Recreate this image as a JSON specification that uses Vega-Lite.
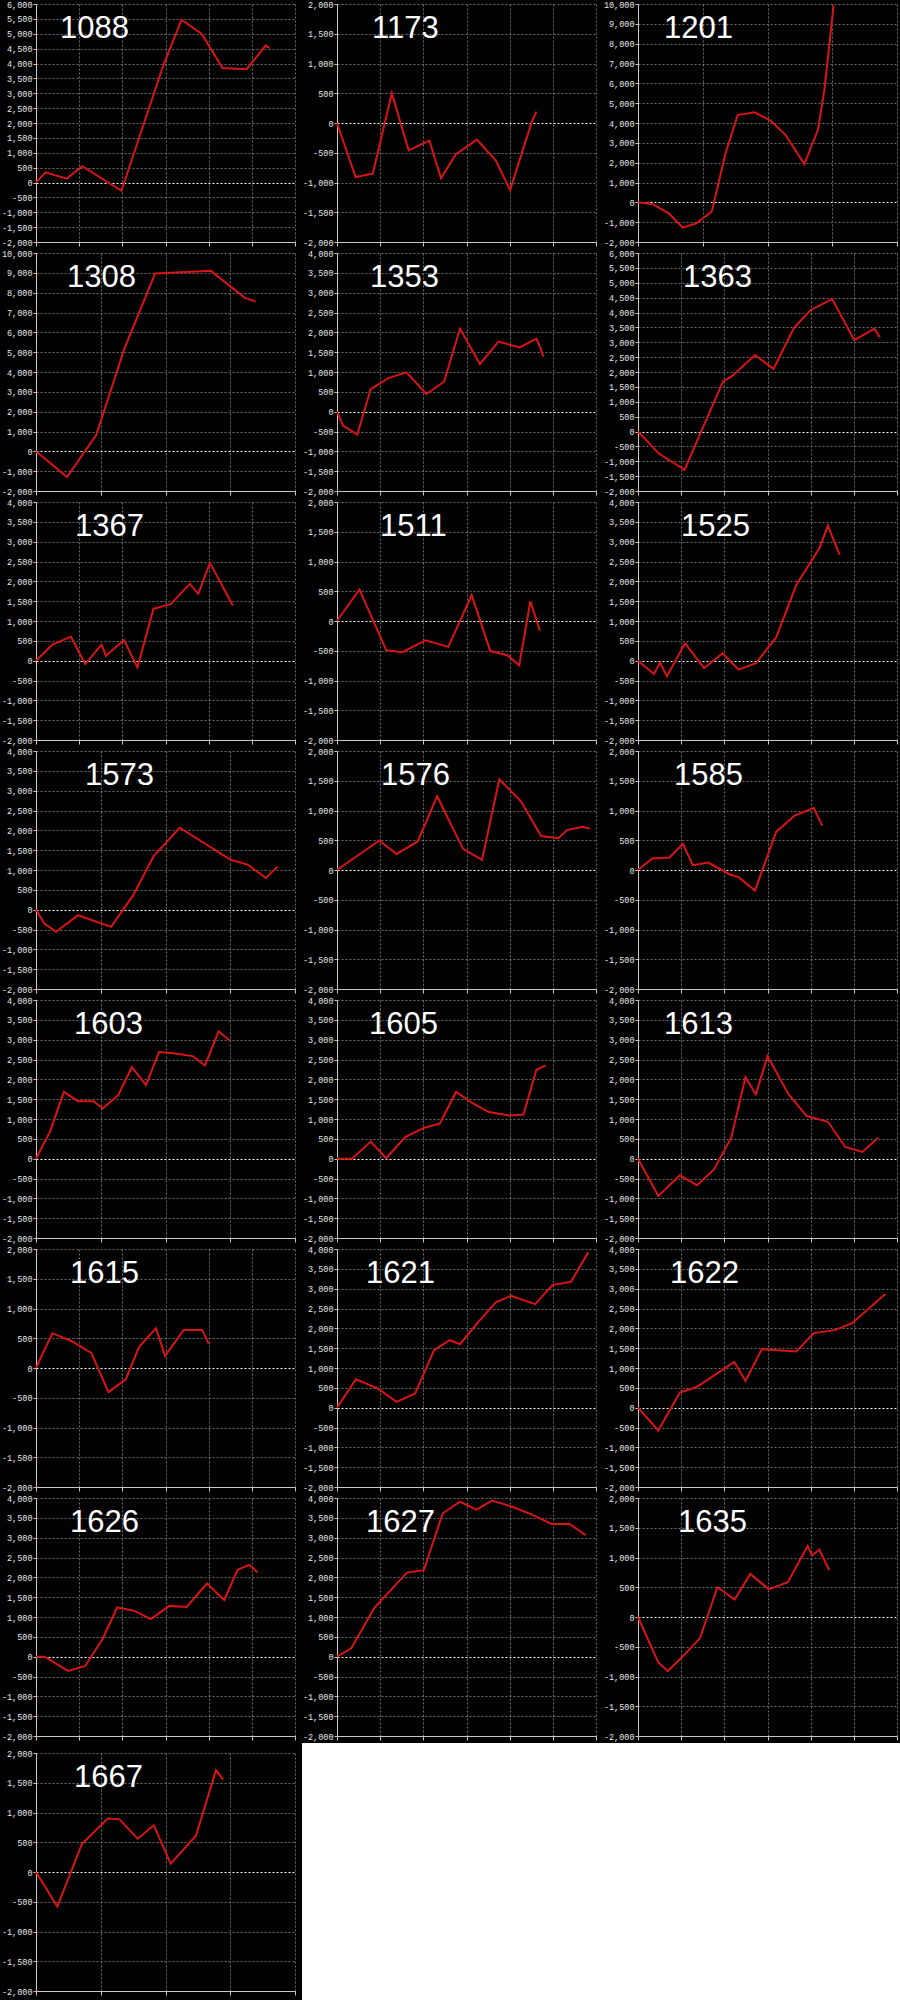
{
"$schema": "https://vega.github.io/schema/vega-lite/v6.json",
"background": "black",
"padding": {"left": 1, "top": 0, "right": 0, "bottom": 0},
"spacing": 2,
"datasets": {
"p1088": [{"x":0,"y":0},{"x":0.22,"y":340},{"x":0.71,"y":130},{"x":1.07,"y":550},{"x":1.98,"y":-280},{"x":2.95,"y":3940},{"x":3.37,"y":5470},{"x":3.84,"y":4990},{"x":4.32,"y":3850},{"x":4.88,"y":3810},{"x":5.32,"y":4600},{"x":5.41,"y":4520}],
"p1173": [{"x":0,"y":0},{"x":0.43,"y":-910},{"x":0.83,"y":-850},{"x":1.27,"y":500},{"x":1.66,"y":-460},{"x":2.14,"y":-295},{"x":2.41,"y":-930},{"x":2.75,"y":-530},{"x":3.24,"y":-280},{"x":3.68,"y":-630},{"x":4.01,"y":-1125},{"x":4.52,"y":35},{"x":4.62,"y":190}],
"p1201": [{"x":0,"y":0},{"x":0.22,"y":-80},{"x":0.48,"y":-570},{"x":0.69,"y":-1270},{"x":0.9,"y":-1060},{"x":1.14,"y":-460},{"x":1.35,"y":2450},{"x":1.54,"y":4400},{"x":1.8,"y":4540},{"x":2.05,"y":4110},{"x":2.28,"y":3390},{"x":2.57,"y":1930},{"x":2.78,"y":3670},{"x":2.88,"y":5710},{"x":3.02,"y":9920}],
"p1308": [{"x":0,"y":0},{"x":0.48,"y":-1300},{"x":0.93,"y":820},{"x":1.37,"y":5220},{"x":1.84,"y":8970},{"x":2.7,"y":9100},{"x":3.22,"y":7750},{"x":3.39,"y":7550}],
"p1353": [{"x":0,"y":0},{"x":0.14,"y":-350},{"x":0.47,"y":-580},{"x":0.78,"y":570},{"x":1.19,"y":845},{"x":1.61,"y":990},{"x":2.07,"y":445},{"x":2.48,"y":755},{"x":2.85,"y":2090},{"x":3.31,"y":1200},{"x":3.74,"y":1765},{"x":4.23,"y":1620},{"x":4.62,"y":1840},{"x":4.72,"y":1590},{"x":4.78,"y":1390}],
"p1363": [{"x":0,"y":0},{"x":0.49,"y":-750},{"x":1.08,"y":-1285},{"x":1.47,"y":20},{"x":1.97,"y":1685},{"x":2.17,"y":1850},{"x":2.71,"y":2570},{"x":3.14,"y":2105},{"x":3.61,"y":3475},{"x":4.0,"y":4085},{"x":4.5,"y":4450},{"x":5.01,"y":3070},{"x":5.48,"y":3455},{"x":5.6,"y":3165}],
"p1367": [{"x":0,"y":0},{"x":0.38,"y":405},{"x":0.81,"y":605},{"x":1.14,"y":-85},{"x":1.52,"y":405},{"x":1.62,"y":125},{"x":2.04,"y":520},{"x":2.35,"y":-170},{"x":2.72,"y":1305},{"x":3.12,"y":1425},{"x":3.56,"y":1935},{"x":3.76,"y":1685},{"x":4.03,"y":2465},{"x":4.56,"y":1390}],
"p1511": [{"x":0,"y":0},{"x":0.52,"y":530},{"x":1.14,"y":-490},{"x":1.51,"y":-525},{"x":2.05,"y":-325},{"x":2.58,"y":-435},{"x":3.12,"y":435},{"x":3.55,"y":-505},{"x":3.95,"y":-575},{"x":4.22,"y":-745},{"x":4.48,"y":330},{"x":4.7,"y":-165}],
"p1525": [{"x":0,"y":0},{"x":0.37,"y":-335},{"x":0.51,"y":-50},{"x":0.67,"y":-390},{"x":1.09,"y":440},{"x":1.53,"y":-190},{"x":1.96,"y":185},{"x":2.33,"y":-225},{"x":2.73,"y":-65},{"x":3.2,"y":585},{"x":3.67,"y":1915},{"x":4.2,"y":2835},{"x":4.4,"y":3400},{"x":4.67,"y":2665}],
"p1573": [{"x":0,"y":0},{"x":0.13,"y":-350},{"x":0.31,"y":-560},{"x":0.65,"y":-140},{"x":1.16,"y":-435},{"x":1.5,"y":360},{"x":1.82,"y":1360},{"x":2.22,"y":2065},{"x":3.0,"y":1260},{"x":3.27,"y":1135},{"x":3.55,"y":800},{"x":3.73,"y":1085}],
"p1576": [{"x":0,"y":0},{"x":0.98,"y":495},{"x":1.38,"y":270},{"x":1.87,"y":480},{"x":2.32,"y":1240},{"x":2.92,"y":355},{"x":3.36,"y":170},{"x":3.76,"y":1525},{"x":4.26,"y":1155},{"x":4.73,"y":570},{"x":5.13,"y":535},{"x":5.33,"y":670},{"x":5.69,"y":725},{"x":5.86,"y":695}],
"p1585": [{"x":0,"y":0},{"x":0.33,"y":195},{"x":0.73,"y":210},{"x":1.04,"y":440},{"x":1.27,"y":80},{"x":1.63,"y":125},{"x":2.13,"y":-75},{"x":2.33,"y":-120},{"x":2.71,"y":-345},{"x":3.2,"y":640},{"x":3.63,"y":915},{"x":4.07,"y":1040},{"x":4.27,"y":745}],
"p1603": [{"x":0,"y":0},{"x":0.22,"y":695},{"x":0.43,"y":1685},{"x":0.65,"y":1450},{"x":0.89,"y":1450},{"x":1.03,"y":1265},{"x":1.27,"y":1600},{"x":1.48,"y":2305},{"x":1.7,"y":1855},{"x":1.9,"y":2690},{"x":2.09,"y":2665},{"x":2.42,"y":2585},{"x":2.61,"y":2350},{"x":2.82,"y":3210},{"x":3.0,"y":2975}],
"p1605": [{"x":0,"y":0},{"x":0.35,"y":0},{"x":0.78,"y":430},{"x":1.14,"y":10},{"x":1.58,"y":545},{"x":2.02,"y":780},{"x":2.38,"y":880},{"x":2.76,"y":1685},{"x":3.12,"y":1410},{"x":3.52,"y":1175},{"x":3.99,"y":1090},{"x":4.32,"y":1115},{"x":4.62,"y":2240},{"x":4.83,"y":2350}],
"p1613": [{"x":0,"y":0},{"x":0.47,"y":-940},{"x":0.97,"y":-420},{"x":1.37,"y":-670},{"x":1.76,"y":-270},{"x":2.16,"y":530},{"x":2.49,"y":2055},{"x":2.73,"y":1620},{"x":3.0,"y":2585},{"x":3.49,"y":1620},{"x":3.91,"y":1075},{"x":4.4,"y":930},{"x":4.8,"y":295},{"x":5.2,"y":170},{"x":5.56,"y":530}],
"p1615": [{"x":0,"y":0},{"x":0.38,"y":585},{"x":0.83,"y":450},{"x":1.28,"y":255},{"x":1.68,"y":-405},{"x":2.08,"y":-190},{"x":2.39,"y":355},{"x":2.78,"y":670},{"x":2.99,"y":200},{"x":3.42,"y":640},{"x":3.85,"y":640},{"x":4.0,"y":410}],
"p1621": [{"x":0,"y":0},{"x":0.44,"y":715},{"x":0.95,"y":480},{"x":1.38,"y":145},{"x":1.81,"y":360},{"x":2.25,"y":1450},{"x":2.61,"y":1700},{"x":2.85,"y":1600},{"x":3.25,"y":2130},{"x":3.68,"y":2655},{"x":4.03,"y":2820},{"x":4.59,"y":2610},{"x":4.99,"y":3090},{"x":5.42,"y":3175},{"x":5.82,"y":3915}],
"p1622": [{"x":0,"y":0},{"x":0.47,"y":-575},{"x":0.97,"y":380},{"x":1.36,"y":520},{"x":2.23,"y":1155},{"x":2.49,"y":675},{"x":2.87,"y":1475},{"x":3.67,"y":1415},{"x":4.07,"y":1880},{"x":4.56,"y":1955},{"x":4.96,"y":2130},{"x":5.73,"y":2865}],
"p1626": [{"x":0,"y":0},{"x":0.2,"y":0},{"x":0.74,"y":-360},{"x":1.14,"y":-235},{"x":1.54,"y":440},{"x":1.88,"y":1240},{"x":2.28,"y":1155},{"x":2.66,"y":945},{"x":3.09,"y":1280},{"x":3.49,"y":1255},{"x":3.96,"y":1845},{"x":4.36,"y":1430},{"x":4.67,"y":2190},{"x":4.94,"y":2315},{"x":5.13,"y":2130}],
"p1627": [{"x":0,"y":0},{"x":0.33,"y":210},{"x":0.87,"y":1240},{"x":1.62,"y":2120},{"x":2.01,"y":2180},{"x":2.45,"y":3615},{"x":2.85,"y":3905},{"x":3.23,"y":3705},{"x":3.59,"y":3935},{"x":4.06,"y":3780},{"x":4.52,"y":3580},{"x":4.97,"y":3345},{"x":5.39,"y":3345},{"x":5.76,"y":3065}],
"p1635": [{"x":0,"y":0},{"x":0.47,"y":-765},{"x":0.69,"y":-910},{"x":1.07,"y":-640},{"x":1.44,"y":-350},{"x":1.84,"y":500},{"x":2.24,"y":295},{"x":2.6,"y":725},{"x":3.03,"y":465},{"x":3.47,"y":585},{"x":3.93,"y":1195},{"x":4.03,"y":1035},{"x":4.2,"y":1135},{"x":4.43,"y":785}],
"p1667": [{"x":0,"y":0},{"x":0.33,"y":-580},{"x":0.71,"y":475},{"x":1.11,"y":900},{"x":1.29,"y":885},{"x":1.57,"y":560},{"x":1.82,"y":785},{"x":2.08,"y":140},{"x":2.47,"y":610},{"x":2.78,"y":1710},{"x":2.89,"y":1555}]
},
"vconcat": [
{"spacing": 6, "hconcat": [
{"title": {"text": "1088", "dx": 24}, "width": 259, "height": 238, "data": {"name": "p1088"}, "mark": "line", "encoding": {"x": {"field": "x", "type": "quantitative", "scale": {"domain": [0, 6], "nice": false, "zero": false}, "axis": {"values": [0,1,2,3,4,5,6]}}, "y": {"field": "y", "type": "quantitative", "scale": {"domain": [-2000, 6000], "nice": false}, "axis": {"values": [-2000,-1500,-1000,-500,0,500,1000,1500,2000,2500,3000,3500,4000,4500,5000,5500,6000], "gridColor": {"condition": {"test": "datum.value === 0", "value": "#ffffff"}, "value": "#6e6e6e"}}}}},
{"title": {"text": "1173", "dx": 35}, "width": 259, "height": 238, "data": {"name": "p1173"}, "mark": "line", "encoding": {"x": {"field": "x", "type": "quantitative", "scale": {"domain": [0, 6], "nice": false, "zero": false}, "axis": {"values": [0,1,2,3,4,5,6]}}, "y": {"field": "y", "type": "quantitative", "scale": {"domain": [-2000, 2000], "nice": false}, "axis": {"values": [-2000,-1500,-1000,-500,0,500,1000,1500,2000], "gridColor": {"condition": {"test": "datum.value === 0", "value": "#ffffff"}, "value": "#6e6e6e"}}}}},
{"title": {"text": "1201", "dx": 26}, "width": 259, "height": 238, "data": {"name": "p1201"}, "mark": "line", "encoding": {"x": {"field": "x", "type": "quantitative", "scale": {"domain": [0, 4], "nice": false, "zero": false}, "axis": {"values": [0,1,2,3,4]}}, "y": {"field": "y", "type": "quantitative", "scale": {"domain": [-2000, 10000], "nice": false}, "axis": {"values": [-2000,-1000,0,1000,2000,3000,4000,5000,6000,7000,8000,9000,10000], "gridColor": {"condition": {"test": "datum.value === 0", "value": "#ffffff"}, "value": "#6e6e6e"}}}}}
]},
{"spacing": 6, "hconcat": [
{"title": {"text": "1308", "dx": 31}, "width": 259, "height": 238, "data": {"name": "p1308"}, "mark": "line", "encoding": {"x": {"field": "x", "type": "quantitative", "scale": {"domain": [0, 4], "nice": false, "zero": false}, "axis": {"values": [0,1,2,3,4]}}, "y": {"field": "y", "type": "quantitative", "scale": {"domain": [-2000, 10000], "nice": false}, "axis": {"values": [-2000,-1000,0,1000,2000,3000,4000,5000,6000,7000,8000,9000,10000], "gridColor": {"condition": {"test": "datum.value === 0", "value": "#ffffff"}, "value": "#6e6e6e"}}}}},
{"title": {"text": "1353", "dx": 33}, "width": 259, "height": 238, "data": {"name": "p1353"}, "mark": "line", "encoding": {"x": {"field": "x", "type": "quantitative", "scale": {"domain": [0, 6], "nice": false, "zero": false}, "axis": {"values": [0,1,2,3,4,5,6]}}, "y": {"field": "y", "type": "quantitative", "scale": {"domain": [-2000, 4000], "nice": false}, "axis": {"values": [-2000,-1500,-1000,-500,0,500,1000,1500,2000,2500,3000,3500,4000], "gridColor": {"condition": {"test": "datum.value === 0", "value": "#ffffff"}, "value": "#6e6e6e"}}}}},
{"title": {"text": "1363", "dx": 45}, "width": 259, "height": 238, "data": {"name": "p1363"}, "mark": "line", "encoding": {"x": {"field": "x", "type": "quantitative", "scale": {"domain": [0, 6], "nice": false, "zero": false}, "axis": {"values": [0,1,2,3,4,5,6]}}, "y": {"field": "y", "type": "quantitative", "scale": {"domain": [-2000, 6000], "nice": false}, "axis": {"values": [-2000,-1500,-1000,-500,0,500,1000,1500,2000,2500,3000,3500,4000,4500,5000,5500,6000], "gridColor": {"condition": {"test": "datum.value === 0", "value": "#ffffff"}, "value": "#6e6e6e"}}}}}
]},
{"spacing": 6, "hconcat": [
{"title": {"text": "1367", "dx": 39}, "width": 259, "height": 238, "data": {"name": "p1367"}, "mark": "line", "encoding": {"x": {"field": "x", "type": "quantitative", "scale": {"domain": [0, 6], "nice": false, "zero": false}, "axis": {"values": [0,1,2,3,4,5,6]}}, "y": {"field": "y", "type": "quantitative", "scale": {"domain": [-2000, 4000], "nice": false}, "axis": {"values": [-2000,-1500,-1000,-500,0,500,1000,1500,2000,2500,3000,3500,4000], "gridColor": {"condition": {"test": "datum.value === 0", "value": "#ffffff"}, "value": "#6e6e6e"}}}}},
{"title": {"text": "1511", "dx": 43}, "width": 259, "height": 238, "data": {"name": "p1511"}, "mark": "line", "encoding": {"x": {"field": "x", "type": "quantitative", "scale": {"domain": [0, 6], "nice": false, "zero": false}, "axis": {"values": [0,1,2,3,4,5,6]}}, "y": {"field": "y", "type": "quantitative", "scale": {"domain": [-2000, 2000], "nice": false}, "axis": {"values": [-2000,-1500,-1000,-500,0,500,1000,1500,2000], "gridColor": {"condition": {"test": "datum.value === 0", "value": "#ffffff"}, "value": "#6e6e6e"}}}}},
{"title": {"text": "1525", "dx": 43}, "width": 259, "height": 238, "data": {"name": "p1525"}, "mark": "line", "encoding": {"x": {"field": "x", "type": "quantitative", "scale": {"domain": [0, 6], "nice": false, "zero": false}, "axis": {"values": [0,1,2,3,4,5,6]}}, "y": {"field": "y", "type": "quantitative", "scale": {"domain": [-2000, 4000], "nice": false}, "axis": {"values": [-2000,-1500,-1000,-500,0,500,1000,1500,2000,2500,3000,3500,4000], "gridColor": {"condition": {"test": "datum.value === 0", "value": "#ffffff"}, "value": "#6e6e6e"}}}}}
]},
{"spacing": 6, "hconcat": [
{"title": {"text": "1573", "dx": 49}, "width": 259, "height": 238, "data": {"name": "p1573"}, "mark": "line", "encoding": {"x": {"field": "x", "type": "quantitative", "scale": {"domain": [0, 4], "nice": false, "zero": false}, "axis": {"values": [0,1,2,3,4]}}, "y": {"field": "y", "type": "quantitative", "scale": {"domain": [-2000, 4000], "nice": false}, "axis": {"values": [-2000,-1500,-1000,-500,0,500,1000,1500,2000,2500,3000,3500,4000], "gridColor": {"condition": {"test": "datum.value === 0", "value": "#ffffff"}, "value": "#6e6e6e"}}}}},
{"title": {"text": "1576", "dx": 44}, "width": 259, "height": 238, "data": {"name": "p1576"}, "mark": "line", "encoding": {"x": {"field": "x", "type": "quantitative", "scale": {"domain": [0, 6], "nice": false, "zero": false}, "axis": {"values": [0,1,2,3,4,5,6]}}, "y": {"field": "y", "type": "quantitative", "scale": {"domain": [-2000, 2000], "nice": false}, "axis": {"values": [-2000,-1500,-1000,-500,0,500,1000,1500,2000], "gridColor": {"condition": {"test": "datum.value === 0", "value": "#ffffff"}, "value": "#6e6e6e"}}}}},
{"title": {"text": "1585", "dx": 36}, "width": 259, "height": 238, "data": {"name": "p1585"}, "mark": "line", "encoding": {"x": {"field": "x", "type": "quantitative", "scale": {"domain": [0, 6], "nice": false, "zero": false}, "axis": {"values": [0,1,2,3,4,5,6]}}, "y": {"field": "y", "type": "quantitative", "scale": {"domain": [-2000, 2000], "nice": false}, "axis": {"values": [-2000,-1500,-1000,-500,0,500,1000,1500,2000], "gridColor": {"condition": {"test": "datum.value === 0", "value": "#ffffff"}, "value": "#6e6e6e"}}}}}
]},
{"spacing": 6, "hconcat": [
{"title": {"text": "1603", "dx": 38}, "width": 259, "height": 238, "data": {"name": "p1603"}, "mark": "line", "encoding": {"x": {"field": "x", "type": "quantitative", "scale": {"domain": [0, 4], "nice": false, "zero": false}, "axis": {"values": [0,1,2,3,4]}}, "y": {"field": "y", "type": "quantitative", "scale": {"domain": [-2000, 4000], "nice": false}, "axis": {"values": [-2000,-1500,-1000,-500,0,500,1000,1500,2000,2500,3000,3500,4000], "gridColor": {"condition": {"test": "datum.value === 0", "value": "#ffffff"}, "value": "#6e6e6e"}}}}},
{"title": {"text": "1605", "dx": 32}, "width": 259, "height": 238, "data": {"name": "p1605"}, "mark": "line", "encoding": {"x": {"field": "x", "type": "quantitative", "scale": {"domain": [0, 6], "nice": false, "zero": false}, "axis": {"values": [0,1,2,3,4,5,6]}}, "y": {"field": "y", "type": "quantitative", "scale": {"domain": [-2000, 4000], "nice": false}, "axis": {"values": [-2000,-1500,-1000,-500,0,500,1000,1500,2000,2500,3000,3500,4000], "gridColor": {"condition": {"test": "datum.value === 0", "value": "#ffffff"}, "value": "#6e6e6e"}}}}},
{"title": {"text": "1613", "dx": 26}, "width": 259, "height": 238, "data": {"name": "p1613"}, "mark": "line", "encoding": {"x": {"field": "x", "type": "quantitative", "scale": {"domain": [0, 6], "nice": false, "zero": false}, "axis": {"values": [0,1,2,3,4,5,6]}}, "y": {"field": "y", "type": "quantitative", "scale": {"domain": [-2000, 4000], "nice": false}, "axis": {"values": [-2000,-1500,-1000,-500,0,500,1000,1500,2000,2500,3000,3500,4000], "gridColor": {"condition": {"test": "datum.value === 0", "value": "#ffffff"}, "value": "#6e6e6e"}}}}}
]},
{"spacing": 6, "hconcat": [
{"title": {"text": "1615", "dx": 34}, "width": 259, "height": 238, "data": {"name": "p1615"}, "mark": "line", "encoding": {"x": {"field": "x", "type": "quantitative", "scale": {"domain": [0, 6], "nice": false, "zero": false}, "axis": {"values": [0,1,2,3,4,5,6]}}, "y": {"field": "y", "type": "quantitative", "scale": {"domain": [-2000, 2000], "nice": false}, "axis": {"values": [-2000,-1500,-1000,-500,0,500,1000,1500,2000], "gridColor": {"condition": {"test": "datum.value === 0", "value": "#ffffff"}, "value": "#6e6e6e"}}}}},
{"title": {"text": "1621", "dx": 29}, "width": 259, "height": 238, "data": {"name": "p1621"}, "mark": "line", "encoding": {"x": {"field": "x", "type": "quantitative", "scale": {"domain": [0, 6], "nice": false, "zero": false}, "axis": {"values": [0,1,2,3,4,5,6]}}, "y": {"field": "y", "type": "quantitative", "scale": {"domain": [-2000, 4000], "nice": false}, "axis": {"values": [-2000,-1500,-1000,-500,0,500,1000,1500,2000,2500,3000,3500,4000], "gridColor": {"condition": {"test": "datum.value === 0", "value": "#ffffff"}, "value": "#6e6e6e"}}}}},
{"title": {"text": "1622", "dx": 32}, "width": 259, "height": 238, "data": {"name": "p1622"}, "mark": "line", "encoding": {"x": {"field": "x", "type": "quantitative", "scale": {"domain": [0, 6], "nice": false, "zero": false}, "axis": {"values": [0,1,2,3,4,5,6]}}, "y": {"field": "y", "type": "quantitative", "scale": {"domain": [-2000, 4000], "nice": false}, "axis": {"values": [-2000,-1500,-1000,-500,0,500,1000,1500,2000,2500,3000,3500,4000], "gridColor": {"condition": {"test": "datum.value === 0", "value": "#ffffff"}, "value": "#6e6e6e"}}}}}
]},
{"spacing": 6, "hconcat": [
{"title": {"text": "1626", "dx": 34}, "width": 259, "height": 238, "data": {"name": "p1626"}, "mark": "line", "encoding": {"x": {"field": "x", "type": "quantitative", "scale": {"domain": [0, 6], "nice": false, "zero": false}, "axis": {"values": [0,1,2,3,4,5,6]}}, "y": {"field": "y", "type": "quantitative", "scale": {"domain": [-2000, 4000], "nice": false}, "axis": {"values": [-2000,-1500,-1000,-500,0,500,1000,1500,2000,2500,3000,3500,4000], "gridColor": {"condition": {"test": "datum.value === 0", "value": "#ffffff"}, "value": "#6e6e6e"}}}}},
{"title": {"text": "1627", "dx": 29}, "width": 259, "height": 238, "data": {"name": "p1627"}, "mark": "line", "encoding": {"x": {"field": "x", "type": "quantitative", "scale": {"domain": [0, 6], "nice": false, "zero": false}, "axis": {"values": [0,1,2,3,4,5,6]}}, "y": {"field": "y", "type": "quantitative", "scale": {"domain": [-2000, 4000], "nice": false}, "axis": {"values": [-2000,-1500,-1000,-500,0,500,1000,1500,2000,2500,3000,3500,4000], "gridColor": {"condition": {"test": "datum.value === 0", "value": "#ffffff"}, "value": "#6e6e6e"}}}}},
{"title": {"text": "1635", "dx": 40}, "width": 259, "height": 238, "data": {"name": "p1635"}, "mark": "line", "encoding": {"x": {"field": "x", "type": "quantitative", "scale": {"domain": [0, 6], "nice": false, "zero": false}, "axis": {"values": [0,1,2,3,4,5,6]}}, "y": {"field": "y", "type": "quantitative", "scale": {"domain": [-2000, 2000], "nice": false}, "axis": {"values": [-2000,-1500,-1000,-500,0,500,1000,1500,2000], "gridColor": {"condition": {"test": "datum.value === 0", "value": "#ffffff"}, "value": "#6e6e6e"}}}}}
]},
{"spacing": 6, "hconcat": [
{"title": {"text": "1667", "dx": 38}, "width": 259, "height": 238, "data": {"name": "p1667"}, "mark": "line", "encoding": {"x": {"field": "x", "type": "quantitative", "scale": {"domain": [0, 4], "nice": false, "zero": false}, "axis": {"values": [0,1,2,3,4]}}, "y": {"field": "y", "type": "quantitative", "scale": {"domain": [-2000, 2000], "nice": false}, "axis": {"values": [-2000,-1500,-1000,-500,0,500,1000,1500,2000], "gridColor": {"condition": {"test": "datum.value === 0", "value": "#ffffff"}, "value": "#6e6e6e"}}}}},
{"width": 580, "height": 240, "data": {"values": []}, "mark": "point", "view": {"fill": "white", "stroke": "white", "strokeWidth": 20}}
]}
],
"config": {
"locale": {"number": {"decimal": ".", "thousands": ",", "grouping": [3], "currency": ["$", ""], "minus": "-"}},
"view": {"fill": "black", "stroke": null},
"line": {"color": "#d81414", "strokeWidth": 2},
"title": {"color": "#ffffff", "font": "Liberation Sans", "fontSize": 31, "fontWeight": "normal", "anchor": "start", "frame": "group", "baseline": "alphabetic", "offset": -45},
"axis": {"title": null, "domainColor": "#c8c8c8", "tickColor": "#c8c8c8", "tickSize": 3, "labelColor": "#e6e6e6", "labelFont": "Liberation Mono", "labelFontSize": 8.5, "labelPadding": 1, "gridColor": "#6e6e6e", "gridDash": [2, 2], "gridWidth": 1, "labelFlush": false, "labelOverlap": false},
"axisX": {"labels": false, "tickSize": 4}
}
}
